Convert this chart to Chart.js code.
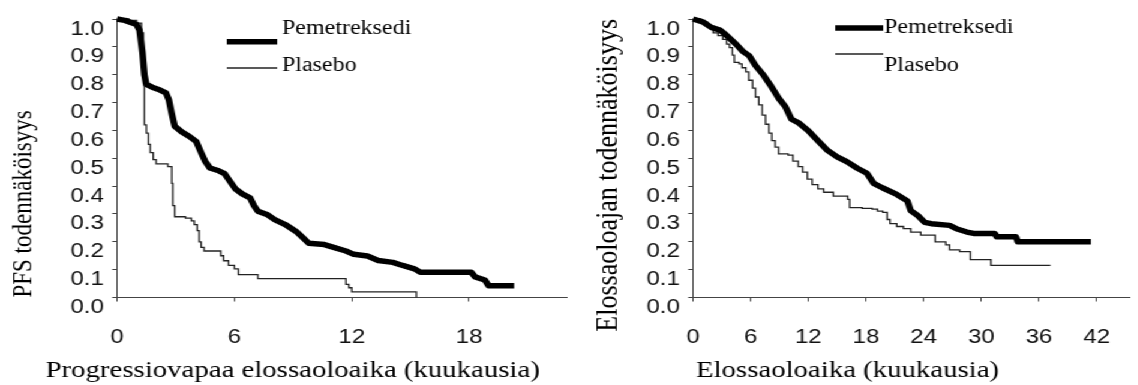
<!DOCTYPE html>
<html>
<head>
<meta charset="utf-8">
<script src="https://cdn.jsdelivr.net/npm/chart.js@4.4.0/dist/chart.umd.min.js"></script>
<style>
  html, body { margin: 0; padding: 0; background: #fff; overflow: hidden; }
  /* the source picture is stretched sideways, so draw narrow and stretch the whole thing */
  #wrap { display: flex; width: 949px; height: 385px; transform: scaleX(1.2); transform-origin: 0 0; }
  #wrap canvas { flex: none; }
</style>
</head>
<body>
<div id="wrap">
  <canvas id="pfs" width="480" height="385"></canvas>
  <canvas id="os" width="469" height="385"></canvas>
</div>
<script>
// y axis is the same on both charts
const yTicks = [0, 0.1, 0.2, 0.3, 0.4, 0.5, 0.6, 0.7, 0.8, 0.9, 1.0]
const yTickLabels = ['0.0', '0.1', '0.2', '0.3', '0.4', '0.5', '0.6', '0.7', '0.8', '0.9', '1.0']

// left chart - progression free survival, months
const pfsXTicks = [0, 6, 12, 18]
const pfsXTickLabels = ['0', '6', '12', '18']

// pemetreksedi (thick line)
const pfsPemTime = [0, 0.4, 1.0, 1.15, 1.3, 1.4, 1.5, 1.8, 2.2, 2.5, 2.65, 2.8, 2.95, 3.3, 3.7, 4.05, 4.3, 4.5, 4.75,
  5.2, 5.5, 5.75, 6.05, 6.4, 6.8, 7.0, 7.2, 7.7, 8.06, 8.6, 9.15, 9.5, 9.8, 10.6, 11.16, 11.7, 12.1, 12.8, 13.35,
  14.1, 14.6, 15.2, 15.5, 18.1, 18.3, 18.8, 19.0, 20.3]
const pfsPemProb = [1.0, 0.995, 0.98, 0.96, 0.88, 0.8, 0.765, 0.755, 0.745, 0.735, 0.71, 0.66, 0.615, 0.595, 0.578, 0.56, 0.52, 0.49, 0.465,
  0.455, 0.445, 0.42, 0.39, 0.372, 0.358, 0.33, 0.31, 0.297, 0.28, 0.262, 0.237, 0.215, 0.195, 0.19, 0.178, 0.167, 0.155, 0.149, 0.133,
  0.126, 0.115, 0.103, 0.091, 0.091, 0.074, 0.063, 0.042, 0.042]

// plasebo (thin line), step after each time
const pfsPlaTime = [0, 0.6, 1.0, 1.25, 1.35, 1.4, 1.5, 1.6, 1.7, 1.85, 2.0, 2.6, 2.8, 2.85, 2.95, 3.5, 3.8, 3.95, 4.1, 4.2, 4.3, 4.45,
  5.3, 5.45, 5.7, 6.0, 6.2, 7.2, 11.7, 11.85, 12.0, 15.3]
const pfsPlaProb = [1.0, 0.995, 0.985, 0.95, 0.77, 0.62, 0.59, 0.55, 0.52, 0.495, 0.48, 0.47, 0.41, 0.33, 0.29, 0.285, 0.275, 0.262, 0.24, 0.2, 0.18, 0.167,
  0.15, 0.132, 0.115, 0.103, 0.082, 0.068, 0.047, 0.035, 0.02, 0.0]

// right chart - overall survival, months
const osXTicks = [0, 6, 12, 18, 24, 30, 36, 42]
const osXTickLabels = ['0', '6', '12', '18', '24', '30', '36', '42']

const osPemTime = [0, 1.0, 1.9, 2.8, 3.4, 4.5, 5.15, 5.85, 6.5, 7.35, 8.05, 8.9, 9.6, 10.25, 10.95, 12.0, 13.0, 14.0, 15.0, 16.0,
  17.1, 18.1, 18.8, 19.7, 21.2, 22.3, 22.65, 23.4, 24.1, 24.8, 26.7, 27.4, 28.5, 29.2, 31.4, 31.6, 33.6, 33.8, 41.4]
const osPemProb = [1.0, 0.99, 0.97, 0.96, 0.944, 0.909, 0.885, 0.868, 0.833, 0.798, 0.763, 0.716, 0.686, 0.64, 0.628, 0.599, 0.563, 0.528, 0.505, 0.488,
  0.464, 0.446, 0.41, 0.394, 0.37, 0.347, 0.312, 0.294, 0.27, 0.265, 0.259, 0.247, 0.235, 0.23, 0.23, 0.218, 0.218, 0.2, 0.2]

const osPlaTime = [0, 0.8, 1.5, 2.1, 2.6, 3.1, 3.5, 3.8, 4.1, 4.3, 4.8, 5.1, 5.5, 5.8, 6.2, 6.5, 6.85, 7.2, 7.55, 7.9, 8.2, 8.55, 8.9,
  9.9, 10.4, 10.95, 11.4, 11.9, 12.4, 13.0, 13.6, 14.6, 16.1, 16.3, 17.6, 18.65, 19.2, 19.75, 20.2, 20.5, 21.2, 21.9, 22.65, 23.7,
  25.2, 26.3, 26.7, 27.75, 28.85, 31.0, 37.2]
const osPlaProb = [1.0, 0.99, 0.97, 0.95, 0.94, 0.927, 0.91, 0.897, 0.87, 0.844, 0.839, 0.825, 0.81, 0.78, 0.752, 0.72, 0.692, 0.655, 0.622, 0.59, 0.563, 0.54, 0.516,
  0.511, 0.49, 0.47, 0.45, 0.425, 0.405, 0.39, 0.378, 0.364, 0.352, 0.323, 0.32, 0.317, 0.31, 0.306, 0.28, 0.265, 0.255, 0.247, 0.235, 0.224,
  0.2, 0.189, 0.171, 0.165, 0.136, 0.115, 0.115]

function points(times, probs) {
  return times.map((t, i) => ({ x: t, y: probs[i] }))
}

const tickFont = { family: '"Liberation Sans", Arial, sans-serif', size: 20 }

// draws the little legend (line sample + name) and the x axis title where the picture has them
const notesPlugin = {
  id: 'notes',
  afterDraw(chart, args, opts) {
    const ctx = chart.ctx
    ctx.save()
    chart.data.datasets.forEach((ds, i) => {
      ctx.beginPath()
      ctx.strokeStyle = ds.borderColor
      ctx.lineWidth = ds.borderWidth
      ctx.moveTo(opts.lineFrom, opts.lineY[i])
      ctx.lineTo(opts.lineTo, opts.lineY[i])
      ctx.stroke()
      ctx.fillStyle = '#000'
      ctx.font = '20px "Liberation Serif", "Times New Roman", serif'
      ctx.textBaseline = 'alphabetic'
      ctx.fillText(ds.label, opts.textX, opts.textY[i])
    })
    ctx.font = '24px "Liberation Serif", "Times New Roman", serif'
    ctx.fillText(opts.xTitle, opts.xTitleX, opts.xTitleY)
    ctx.restore()
  }
}

function makeChart(id, c) {
  return new Chart(document.getElementById(id), {
    type: 'line',
    data: {
      datasets: [
        { label: 'Pemetreksedi', data: c.pem, borderColor: '#000', borderWidth: 5.5, pointRadius: 0,
          tension: 0, borderJoinStyle: 'round', clip: false },
        { label: 'Plasebo', data: c.pla, borderColor: '#222', borderWidth: 1.3, pointRadius: 0,
          stepped: true, clip: false }
      ]
    },
    options: {
      responsive: false,
      animation: false,
      events: [],
      layout: { padding: { top: 12.5, right: c.padRight, bottom: 0, left: 0 } },
      plugins: { legend: { display: false }, tooltip: { enabled: false }, notes: c.notes },
      scales: {
        x: {
          type: 'linear', min: 0, max: c.xMax,
          afterFit: s => { s.height = 87.5 },
          afterBuildTicks: s => { s.ticks = c.xTicks.map(v => ({ value: v })) },
          ticks: { padding: 24, color: '#111', font: tickFont, maxRotation: 0, autoSkip: false,
            callback: (v, i) => c.xTickLabels[i] },
          grid: { display: true, drawOnChartArea: false, drawTicks: true, tickLength: 4, color: '#444' },
          border: { display: true, color: '#444', width: 1 }
        },
        y: {
          type: 'linear', min: 0, max: 1,
          afterFit: s => { s.width = 97.5 },
          afterBuildTicks: s => { s.ticks = yTicks.map(v => ({ value: v })) },
          ticks: { padding: 7, labelOffset: 10, color: '#111', font: tickFont, autoSkip: false,
            callback: (v, i) => yTickLabels[i] },
          grid: { display: true, drawOnChartArea: false, drawTicks: true, tickLength: 4, color: '#444' },
          border: { display: true, color: '#444', width: 1 },
          title: { display: true, text: c.yTitle, align: c.yTitleAlign, color: '#000',
            font: { family: '"Liberation Serif", "Times New Roman", serif', size: c.yTitleSize },
            padding: { top: c.yTitlePad, bottom: 0 } }
        }
      }
    },
    plugins: [notesPlugin]
  })
}

makeChart('pfs', {
  pem: points(pfsPemTime, pfsPemProb),
  pla: points(pfsPlaTime, pfsPlaProb),
  xMax: 23, xTicks: pfsXTicks, xTickLabels: pfsXTickLabels, padRight: 7.5,
  yTitle: 'PFS todennäköisyys', yTitleAlign: 'start', yTitleSize: 23, yTitlePad: 6,
  notes: { lineFrom: 189, lineTo: 231, lineY: [41.7, 68], textX: 235, textY: [34.3, 71],
    xTitle: 'Progressiovapaa elossaoloaika (kuukausia)', xTitleX: 38, xTitleY: 377 }
})

makeChart('os', {
  pem: points(osPemTime, osPemProb),
  pla: points(osPlaTime, osPlaProb),
  xMax: 45.5, xTicks: osXTicks, xTickLabels: osXTickLabels, padRight: 0,
  yTitle: 'Elossaoloajan todennäköisyys', yTitleAlign: 'end', yTitleSize: 26, yTitlePad: 12,
  notes: { lineFrom: 216, lineTo: 256, lineY: [28, 54], textX: 256.7, textY: [33.3, 71],
    xTitle: 'Elossaoloaika (kuukausia)', xTitleX: 100, xTitleY: 377 }
})
</script>
</body>
</html>
